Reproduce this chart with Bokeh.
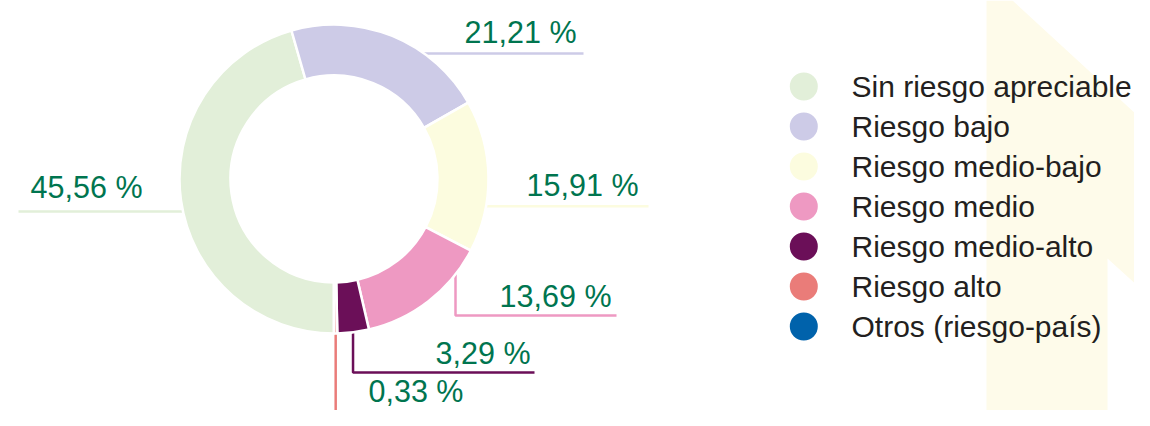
import numpy as np
from bokeh.plotting import figure
from bokeh.models import Range1d, ColumnDataSource
from bokeh.embed import file_html
from bokeh.resources import INLINE
from bokeh.core.properties import value

# ---------------- data ----------------
categories = ["Sin riesgo apreciable", "Riesgo bajo", "Riesgo medio-bajo",
              "Riesgo medio", "Riesgo medio-alto", "Riesgo alto",
              "Otros (riesgo-país)"]
shares = [45.56, 21.21, 15.91, 13.69, 3.29, 0.33, 0.01]
share_labels = ["45,56 %", "21,21 %", "15,91 %", "13,69 %", "3,29 %", "0,33 %", ""]
colors = ["#e2efd9", "#cdcbe7", "#fcfcdf", "#ee99c2", "#6b0f58", "#ea7c79", "#0062ab"]

# ---------------- layout (pixels, y downward) ----------------
W, H = 1134, 410
CX, CY = 333.5, 178.5
R_OUT, R_IN = 154.5, 103.5
R_VIS = 153.0
LABEL_COLOR = "#00754f"
TEXT_COLOR = "#231f20"
FONT = "Liberation Sans"

# leader routing per slice and label anchor (ly = vertical centre of the digits)
leaders = [
    dict(kind="h", y=211.0, x_end=18.0, lx=142.0, ly=186.1, align="right"),
    dict(kind="h", y=53.0, x_end=583.0, lx=576.0, ly=31.1, align="right"),
    dict(kind="h", y=205.7, x_end=648.0, lx=638.0, ly=184.1, align="right"),
    dict(kind="v", x=455.0, y_elbow=315.0, x_end=616.0, lx=611.0, ly=295.8, align="right"),
    dict(kind="v", x=None, y_elbow=372.0, x_end=534.0, lx=530.0, ly=352.1, align="right"),
    dict(kind="v", x=None, y_elbow=430.0, x_end=None, lx=368.0, ly=390.0, align="left"),
    None,
]

legend_x_dot, legend_x_text = 803.3, 851.0
legend_y0, legend_dy = 86.0, 40.0

# ---------------- figure ----------------
p = figure(width=W, height=H, x_range=Range1d(0, W), y_range=Range1d(-H, 0),
           output_backend="svg", toolbar_location=None, min_border=0,
           x_axis_location=None, y_axis_location=None)
p.grid.visible = False
p.outline_line_color = None
p.background_fill_color = "white"
p.border_fill_color = "white"

# decorative cream background shape
bg_x = [986, 1012, 1150, 1150, 1107, 1107, 1117, 986]
bg_y = [0, 0, 127, 297, 258, 417, 426, 426]
p.patch(bg_x, [-v for v in bg_y], fill_color="#fefbea", line_color=None)

# wedge angles: start at 6 o'clock, go clockwise on screen
vals = np.array(shares, dtype=float)
frac = vals / vals.sum()
cum = np.concatenate([[0.0], np.cumsum(frac)])
theta0 = 180.0 + 360.0 * cum[:-1]   # clockwise from top, degrees
theta1 = 180.0 + 360.0 * cum[1:]
start = np.radians(90.0 - theta1)
end = np.radians(90.0 - theta0)
mid_theta = np.radians((theta0 + theta1) / 2.0)

# leader lines
lxs, lys, lcols = [], [], []
for i, spec in enumerate(leaders):
    if spec is None:
        continue
    if spec["kind"] == "h":
        dy = spec["y"] - CY
        dx = np.sqrt(max(R_VIS ** 2 - dy ** 2, 0.0))
        side = np.sign(np.sin(mid_theta[i]))
        x0 = CX + side * (dx - 3)
        xs = [x0, spec["x_end"]]
        ys = [spec["y"], spec["y"]]
    else:
        if spec["x"] is None:
            xa = CX + R_VIS * np.sin(mid_theta[i])
        else:
            xa = spec["x"]
        ya = CY + np.sqrt(max(R_VIS ** 2 - (xa - CX) ** 2, 0.0))
        xs = [xa, xa]
        ys = [ya - 3, spec["y_elbow"]]
        if spec["x_end"] is not None:
            xs.append(spec["x_end"])
            ys.append(spec["y_elbow"])
    lxs.append(xs)
    lys.append([-v for v in ys])
    lcols.append(colors[i])

p.multi_line(xs=lxs, ys=lys, line_color=lcols, line_width=2.5)

src = ColumnDataSource(dict(start=start, end=end, color=colors, cat=categories))
p.annular_wedge(x=CX, y=-CY, inner_radius=R_IN, outer_radius=R_OUT,
                start_angle="start", end_angle="end", fill_color="color",
                line_color="white", line_width=2.5, source=src)

# value labels
for i, spec in enumerate(leaders):
    if spec is None or not share_labels[i]:
        continue
    p.text(x=[spec["lx"]], y=[-spec["ly"]], text=[share_labels[i]],
           text_font=value(FONT), text_font_size="30.5px", text_color=LABEL_COLOR,
           text_align=spec["align"], text_baseline="middle")

# legend
n = len(categories)
ly = [-(legend_y0 + legend_dy * k) for k in range(n)]
p.scatter(x=[legend_x_dot] * n, y=ly, size=28, marker="circle",
          fill_color=colors, line_color=None)
p.text(x=[legend_x_text] * n, y=ly, text=categories,
       text_font=value(FONT), text_font_size="30px", text_color=TEXT_COLOR,
       text_align="left", text_baseline="middle")

open("out.html", "w").write(file_html(p, INLINE))
